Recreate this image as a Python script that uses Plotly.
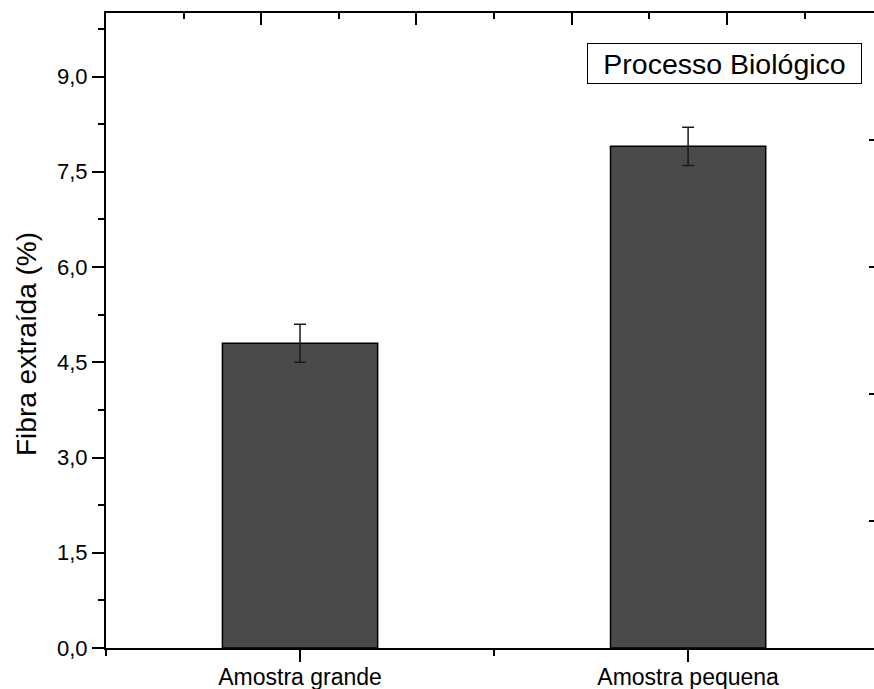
import plotly.graph_objects as go

categories = ["Amostra grande", "Amostra pequena"]
fibra = [4.8, 7.9]
erro = [0.3, 0.3]
legend_label = "Processo Biológico"
y_title = "Fibra extraída (%)"

xpos = list(range(len(categories)))
FONT = "Liberation Sans, Arial, sans-serif"

fig = go.Figure()
fig.add_trace(go.Bar(
    x=xpos, y=fibra, width=0.4,
    marker=dict(color="#4a4a4a", line=dict(color="black", width=1.5)),
    error_y=dict(type="data", array=erro, visible=True, color="#1a1a1a",
                 thickness=1.5, width=6),
    showlegend=False, hoverinfo="skip",
))
# invisible helper traces so the top and right frame axes are drawn
fig.add_trace(go.Scatter(x=xpos, y=fibra, xaxis="x2", yaxis="y", mode="markers",
                         marker=dict(opacity=0), showlegend=False, hoverinfo="skip"))
fig.add_trace(go.Scatter(x=xpos, y=fibra, xaxis="x", yaxis="y2", mode="markers",
                         marker=dict(opacity=0), showlegend=False, hoverinfo="skip"))

xr = [-0.5, 1.479]
fig.update_layout(
    width=874, height=689,
    margin=dict(l=106, r=0, t=13, b=41),
    paper_bgcolor="white", plot_bgcolor="white",
    separators=",.",
    font=dict(family=FONT, size=22, color="black"),
    showlegend=False,
    xaxis=dict(
        range=xr, tickmode="array", tickvals=xpos, ticktext=categories,
        ticks="outside", ticklen=12, tickwidth=2, tickcolor="black",
        minor=dict(tickmode="linear", tick0=-0.5, dtick=1, ticks="outside",
                   ticklen=6, tickwidth=2, tickcolor="black"),
        showline=True, linewidth=2, linecolor="black",
        showgrid=False, zeroline=False, automargin=False,
        tickfont=dict(size=23), ticklabelstandoff=-5,
    ),
    xaxis2=dict(
        range=xr, overlaying="x", side="top", anchor="y",
        tickmode="linear", tick0=-0.5, dtick=0.4,
        ticks="inside", ticklen=12, tickwidth=2, tickcolor="black",
        minor=dict(tickmode="linear", tick0=-0.5, dtick=0.2, ticks="inside",
                   ticklen=6, tickwidth=2, tickcolor="black"),
        showline=True, linewidth=2, linecolor="black",
        showticklabels=False, showgrid=False, zeroline=False, automargin=False,
    ),
    yaxis=dict(
        range=[0, 10], tickmode="linear", tick0=0, dtick=1.5, tickformat=".1f",
        ticks="outside", ticklen=12, tickwidth=2, tickcolor="black",
        minor=dict(tickmode="linear", tick0=0, dtick=0.75, ticks="outside",
                   ticklen=6, tickwidth=2, tickcolor="black"),
        showline=True, linewidth=2, linecolor="black",
        showgrid=False, zeroline=False, automargin=False,
        tickfont=dict(size=22),
    ),
    yaxis2=dict(
        range=[0, 10], overlaying="y", side="right", anchor="x",
        tickmode="linear", tick0=0, dtick=2,
        ticks="inside", ticklen=5, tickwidth=2, tickcolor="black",
        showline=False, showticklabels=False, showgrid=False, zeroline=False,
        automargin=False,
    ),
)

# y-axis title
fig.add_annotation(
    text=y_title, xref="paper", yref="paper",
    x=(26 - 106) / 768, y=(648 - 344) / 635, xanchor="center", yanchor="middle",
    textangle=-90, showarrow=False, font=dict(size=28, family=FONT),
)

# legend box
fig.add_annotation(
    text=legend_label, xref="paper", yref="paper",
    x=(862 - 106) / 768, y=(648 - 43) / 635, xanchor="right", yanchor="top",
    showarrow=False, font=dict(size=28.5, family=FONT),
    bordercolor="black", borderwidth=1, bgcolor="white",
    width=271, height=37, align="center",
)

fig.write_html("out.html")
